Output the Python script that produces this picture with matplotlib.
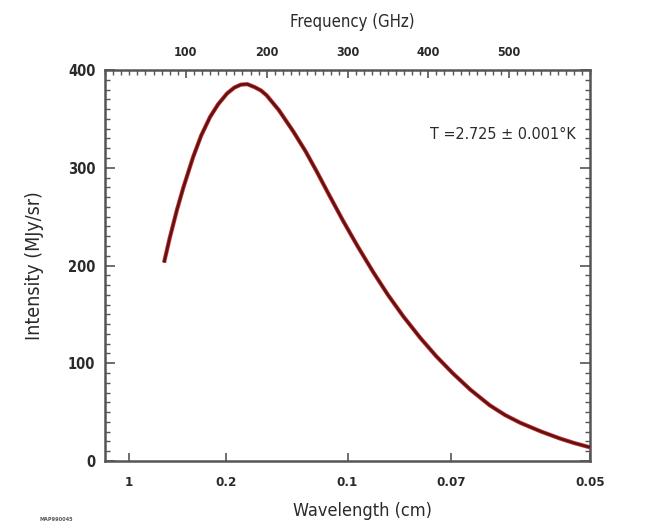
import numpy as np
import matplotlib
matplotlib.use("Agg")
import matplotlib.pyplot as plt
from matplotlib.ticker import MultipleLocator

# Data (frequency in GHz, intensity in MJy/sr)
freq_ghz = [73, 80, 89, 97, 109, 119, 130, 140, 151, 160, 168, 176, 185, 193,
            200, 215, 233, 248, 262, 278, 295, 313, 332, 350, 369, 390, 410,
            430, 452, 476, 495, 514, 540, 563, 580, 600]
intensity = [203, 228, 257, 280, 311, 333, 352, 365, 376, 382, 385, 385.5, 382.5, 379,
             374, 359, 337, 317, 296, 271, 245, 219, 193, 170, 148, 126, 107,
             90, 73, 57, 47, 39, 30, 23, 18.5, 14]

wavelength_ticks_cm = [1, 0.2, 0.1, 0.07, 0.05]
wavelength_labels = ["1", "0.2", "0.1", "0.07", "0.05"]
freq_ticks = [100, 200, 300, 400, 500]
y_ticks = [0, 100, 200, 300, 400]

plt.rcParams["font.family"] = ["DejaVu Sans"]
plt.rcParams["font.stretch"] = "condensed"
plt.rcParams["font.weight"] = "semibold"

fig = plt.figure(figsize=(6.54, 5.29), dpi=100)
ax = fig.add_axes([0.1606, 0.1285, 0.7415, 0.7392])

ax.plot(freq_ghz, intensity, color="#d03030", lw=3.0, solid_capstyle="butt", zorder=2)
ax.plot(freq_ghz, intensity, color="#5a1414", lw=1.8, solid_capstyle="butt", zorder=3)

ax.set_xlim(0, 600)
ax.set_ylim(0, 400)

spine_col = "#555555"
for s in ax.spines.values():
    s.set_color(spine_col)
    s.set_linewidth(1.8)

txt_col = "#2a2a2a"
# bottom: wavelength labels at 30/lambda GHz
ax.set_xticks([30.0 / w for w in wavelength_ticks_cm])
ax.set_xticklabels(wavelength_labels)
ax.set_yticks(y_ticks)
ax.yaxis.set_minor_locator(MultipleLocator(10))
ax.tick_params(axis="x", which="major", direction="in", length=6, width=1.2,
               color=spine_col, labelsize=9.5, pad=11, top=False, labelcolor=txt_col)
ax.tick_params(axis="y", which="major", direction="in", length=7, width=1.2,
               color=spine_col, labelsize=10.5, pad=7, right=True, labelcolor=txt_col)
ax.tick_params(axis="y", which="minor", direction="in", length=3.5, width=1.0,
               color=spine_col, right=True)

ax2 = ax.twiny()
ax2.set_xlim(0, 600)
ax2.set_xticks(freq_ticks)
ax2.xaxis.set_minor_locator(MultipleLocator(10))
ax2.tick_params(axis="x", which="major", direction="in", length=6, width=1.2,
                color=spine_col, labelsize=9, pad=8, labelcolor=txt_col)
ax2.tick_params(axis="x", which="minor", direction="in", length=3.5, width=1.0,
                color=spine_col)
for s in ax2.spines.values():
    s.set_visible(False)

ax.set_xlabel("Wavelength (cm)", fontsize=13, color=txt_col, fontweight="normal")
ax.xaxis.set_label_coords(0.53, -0.105)
ax.set_ylabel("Intensity (MJy/sr)", fontsize=14, color=txt_col, fontweight="normal")
ax.yaxis.set_label_coords(-0.125, 0.5)
ax2.set_xlabel("Frequency (GHz)", fontsize=12, color=txt_col, fontweight="normal")
ax2.xaxis.set_label_coords(0.51, 1.11)

ax.text(0.82, 0.835, "T =2.725 \u00b1 0.001\u00b0K", transform=ax.transAxes,
        ha="center", va="center", fontsize=11.5, color=txt_col, fontweight="normal")

fig.text(0.06, 0.015, "MAP990045", fontsize=4, color="#555555", ha="left")

fig.savefig("out.png", dpi=100)
